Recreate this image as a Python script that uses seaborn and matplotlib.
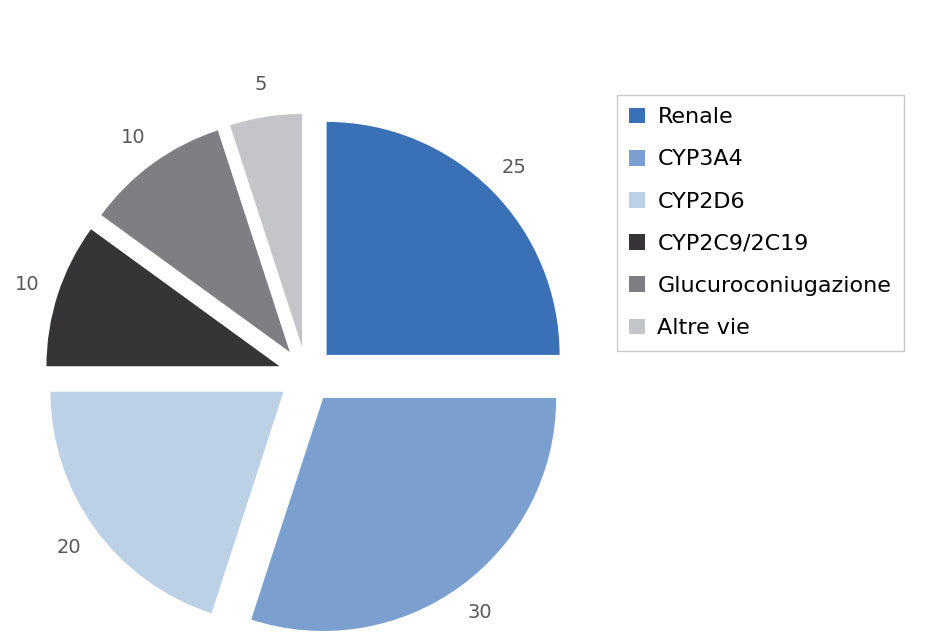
import matplotlib
matplotlib.use("Agg")
import matplotlib.pyplot as plt
import seaborn as sns

sns.set_theme(style="white")
plt.rcParams['font.family'] = ['DejaVu Sans']

categories = ["Renale", "CYP3A4", "CYP2D6", "CYP2C9/2C19", "Glucuroconiugazione", "Altre vie"]
values = [25, 30, 20, 10, 10, 5]
colors = ["#3A70B5", "#7BA0CF", "#BCD0E6", "#363437", "#7F7E83", "#C3C5C9"]

W, H = 952, 644
fig = plt.figure(figsize=(W / 100, H / 100), dpi=100)
ax = fig.add_axes([0, 0, 1, 1])

R = 233.0
cx, cy = 306.5, 375.0
explode = [28.4 / R] * len(values)
total = sum(values)

wedges, texts, autotexts = ax.pie(
    values, colors=colors, startangle=90, counterclock=False,
    explode=explode, radius=1.0,
    autopct=lambda p: f"{round(p * total / 100):d}", pctdistance=1.14,
    wedgeprops=dict(linewidth=0),
    textprops=dict(color="#595959", fontsize=14),
)
ax.set_aspect('auto')
ax.set_xlim(-cx / R, (W - cx) / R)
ax.set_ylim(-(H - cy) / R, cy / R)
ax.axis('off')

leg = fig.legend(
    wedges, categories, loc="upper left",
    bbox_to_anchor=(617 / W, 1 - 95 / H),
    frameon=True, fontsize=16, handlelength=0.72, handleheight=0.72,
    handletextpad=0.55, labelspacing=1.0, borderpad=0.55,
    fancybox=False, borderaxespad=0,
)
leg.get_frame().set_edgecolor("#BFBFBF")
leg.get_frame().set_linewidth(1.0)
for t in leg.get_texts():
    t.set_color("#000000")

fig.savefig("out.png", dpi=100)
